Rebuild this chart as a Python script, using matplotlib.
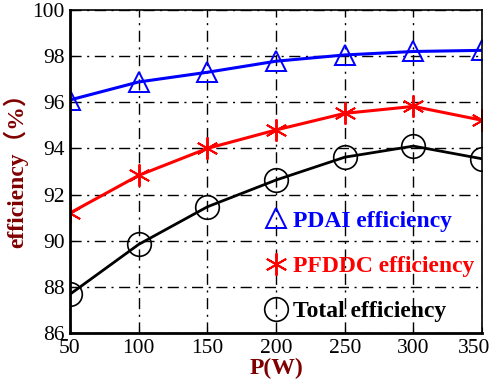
import matplotlib
matplotlib.use('Agg')
from matplotlib import pyplot as plt
from matplotlib.transforms import ScaledTranslation

# data
power = [50, 100, 150, 200, 250, 300, 350]
pdai_eff = [96.1, 96.88, 97.3, 97.78, 98.05, 98.2, 98.25]
pfddc_eff = [91.2, 92.83, 94.0, 94.8, 95.52, 95.82, 95.22]
total_eff = [87.68, 89.84, 91.47, 92.63, 93.62, 94.1, 93.55]

x_ticks = [50, 100, 150, 200, 250, 300, 350]
y_ticks = [86, 88, 90, 92, 94, 96, 98, 100]

serif = ['Liberation Serif', 'Noto Sans CJK SC', 'DejaVu Sans']
plt.rcParams['font.family'] = serif

fig = plt.figure(figsize=(4.95, 3.83), dpi=100)
ax = fig.add_axes([0.1414, 0.1305, 0.8326, 0.8435])

asterisk = (6, 2, 0)
ax.plot(power, pdai_eff, c='#0000ff', lw=2.2, marker='^', ms=14,
        mfc='none', mew=1.4, label='PDAI efficiency')
ax.plot(power, pfddc_eff, c='#ff0000', lw=2.2, marker=asterisk, ms=16,
        mew=1.4, label='PFDDC efficiency')
ax.plot(power, total_eff, c='black', lw=2.0, marker='o', ms=17,
        mfc='none', mew=1.2, label='Total efficiency')

ax.set_xlim(50, 350)
ax.set_ylim(86, 100)
ax.set_xticks(x_ticks)
ax.set_yticks(y_ticks)
ax.grid(True, color='black', linestyle='-.', lw=1.0, dashes=(8, 4, 1.5, 4))
ax.tick_params(axis='both', which='major', labelsize=15.5, direction='in',
               length=4, pad=4)
for s in ax.spines.values():
    s.set_linewidth(1.2)
for s in ['left', 'bottom']:
    ax.spines[s].set_linewidth(2.0)

# nudge the last x label inwards like the reference
last = ax.get_xticklabels()[-1]
last.set_transform(last.get_transform() +
                   ScaledTranslation(-6 / 72, 0, fig.dpi_scale_trans))

ax.set_xlabel('P(W)', fontsize=17, fontweight='bold', color='#800000',
              labelpad=0)
ax.set_ylabel('efficiency（%）', fontsize=17, fontweight='bold',
              color='#800000')
ax.yaxis.set_label_coords(-0.102, 0.52)

# legend shows markers only, text coloured like the series
handles, labels = ax.get_legend_handles_labels()
leg = ax.legend(handles, labels, loc='lower left', frameon=False,
                prop={'size': 17, 'weight': 'bold'}, handlelength=0.8,
                handletextpad=0.3, labelspacing=1.0,
                bbox_to_anchor=(0.455, 0.005), borderaxespad=0.0)
for line in leg.get_lines():
    line.set_linestyle('none')
for txt, col in zip(leg.get_texts(), ['#0000ff', '#ff0000', 'black']):
    txt.set_color(col)

plt.savefig('out.png', dpi=100)
